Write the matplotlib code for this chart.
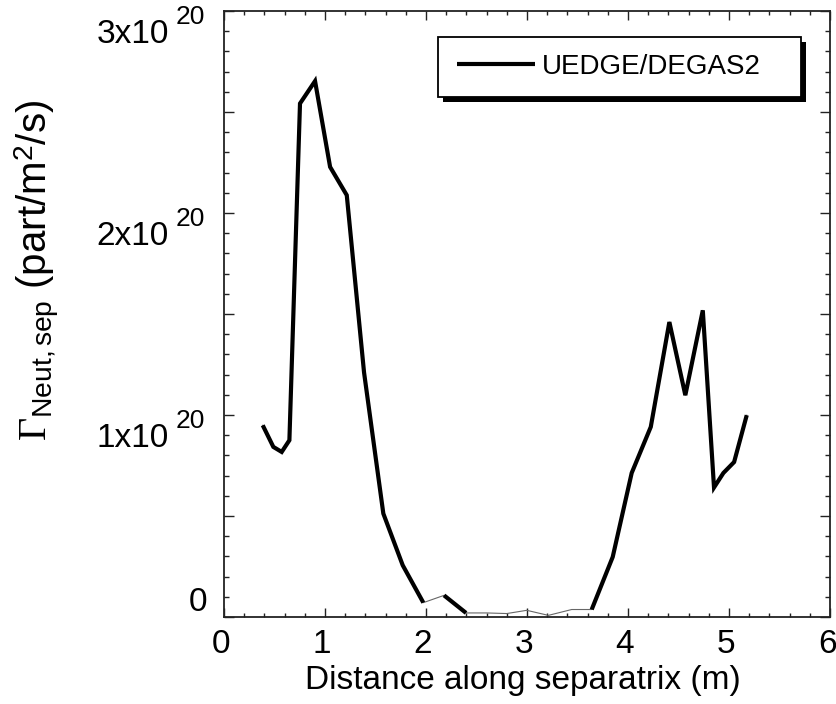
import matplotlib
matplotlib.use("Agg")
import numpy as np
import matplotlib.pyplot as plt
from matplotlib.ticker import MultipleLocator, FuncFormatter, NullFormatter
from matplotlib.patches import Rectangle
from matplotlib.transforms import ScaledTranslation, IdentityTransform

plt.rcParams['font.family'] = ['Liberation Sans', 'DejaVu Sans']
plt.rcParams['mathtext.fontset'] = 'custom'
plt.rcParams['mathtext.rm'] = 'Liberation Serif'
plt.rcParams['mathtext.it'] = 'Liberation Serif:italic'
plt.rcParams['mathtext.bf'] = 'Liberation Serif:bold'

# ---- data (distance in m, flux in units of 1e20 part/m^2/s) ----
distance = [0.383, 0.488, 0.571, 0.647, 0.752, 0.901, 1.050, 1.215, 1.386, 1.577,
            1.769, 1.973, 2.178, 2.396, 2.601, 2.799, 2.997, 3.211, 3.442, 3.640,
            3.848, 4.036, 4.225, 4.409, 4.567, 4.740, 4.851, 4.944, 5.050, 5.175]
flux_1e20 = [0.949, 0.842, 0.817, 0.875, 2.542, 2.653, 2.228, 2.088, 1.211, 0.512,
             0.256, 0.071, 0.107, 0.020, 0.020, 0.017, 0.033, 0.008, 0.037, 0.037,
             0.297, 0.713, 0.941, 1.460, 1.098, 1.518, 0.641, 0.713, 0.767, 0.999]
# index runs drawn with the thick line
thick_runs = [(0, 11), (12, 13), (19, 29)]
series_label = "UEDGE/DEGAS2"
x_ticks = [0, 1, 2, 3, 4, 5, 6]
y_label_values = [1, 2, 3]
y_exponent = "20"

DPI = 100
fig = plt.figure(figsize=(8.36, 7.04), dpi=DPI)
ax = fig.add_axes([0.268, 0.1236, 0.7249, 0.8608])

x = np.array(distance)
y = np.array(flux_1e20)

ax.plot(x, y, color='#666666', lw=0.8, zorder=2)
first = True
for a, b in thick_runs:
    ax.plot(x[a:b + 1], y[a:b + 1], color='black', lw=3.0,
            solid_joinstyle='miter', solid_capstyle='butt', zorder=3,
            label=series_label if first else None)
    first = False

ax.set_xlim(0, 6)
ax.set_ylim(0, 3)
ax.set_xticks(x_ticks)
ax.xaxis.set_minor_locator(MultipleLocator(0.2))
ax.yaxis.set_major_locator(MultipleLocator(0.5))
ax.yaxis.set_minor_locator(MultipleLocator(0.1))
ax.yaxis.set_major_formatter(NullFormatter())
ax.xaxis.set_major_formatter(FuncFormatter(lambda v, p: '%d' % round(v)))

ax.tick_params(which='both', direction='in', top=True, right=True, width=1.0,
               color='#222222')
ax.tick_params(axis='x', which='major', length=6.5, labelsize=24, pad=9)
ax.tick_params(axis='x', which='minor', length=3)
ax.tick_params(axis='y', which='major', length=7)
ax.tick_params(axis='y', which='minor', length=3.5)
for s in ax.spines.values():
    s.set_linewidth(1.3)
    s.set_color('#222222')

def px(dx, dy):
    return ScaledTranslation(dx / DPI, dy / DPI, fig.dpi_scale_trans)

ytrans = ax.get_yaxis_transform()
# y tick labels drawn as base + raised exponent, like the original
for k in y_label_values:
    ax.text(0, k, '%dx10' % k, fontsize=24, ha='right', va='center',
            transform=ytrans + px(-55, -24))
    ax.text(0, k, y_exponent, fontsize=19, ha='left', va='center',
            transform=ytrans + px(-48, -6))
# zero label (raised, as in the original)
ax.text(0, 0, '0', fontsize=24, ha='right', va='center', transform=ytrans + px(-17, 14))

fig.text(523 / 836, 1 - 680 / 704, 'Distance along separatrix (m)', fontsize=24,
         ha='center', va='center')
fig.text(37 / 836, 1 - 270 / 704,
         r'$\Gamma_{\mathregular{Neut,sep}}$ (part/m$^{\mathregular{2}}$/s)',
         fontsize=29, rotation=90, ha='center', va='center')

leg = ax.legend(loc='center left', bbox_to_anchor=((457 - 224) / 606, (617 - 67) / 606),
                borderaxespad=0, fontsize=20, frameon=False,
                handlelength=2.8, handletextpad=0.25, borderpad=0)
leg.set_zorder(5)

fig.canvas.draw()

for lbl in ax.get_xticklabels():
    lbl.set_transform(lbl.get_transform() + px(-3, 0))

bb = leg.get_window_extent()
fx0 = bb.x0 - 19
fw = (bb.x1 - bb.x0) + 19 + 40
fh = 60
fy0 = (bb.y0 + bb.y1) / 2 - fh / 2
shadow = Rectangle((fx0 + 5, fy0 - 5), fw, fh, transform=IdentityTransform(),
                   facecolor='black', edgecolor='none', zorder=4.8, clip_on=False)
frame = Rectangle((fx0, fy0), fw, fh, transform=IdentityTransform(),
                  facecolor='white', edgecolor='black', lw=1.3, zorder=4.9, clip_on=False)
ax.add_patch(shadow)
ax.add_patch(frame)
ax.set_xlim(0, 6)
ax.set_ylim(0, 3)

fig.savefig('out.png', dpi=DPI)
